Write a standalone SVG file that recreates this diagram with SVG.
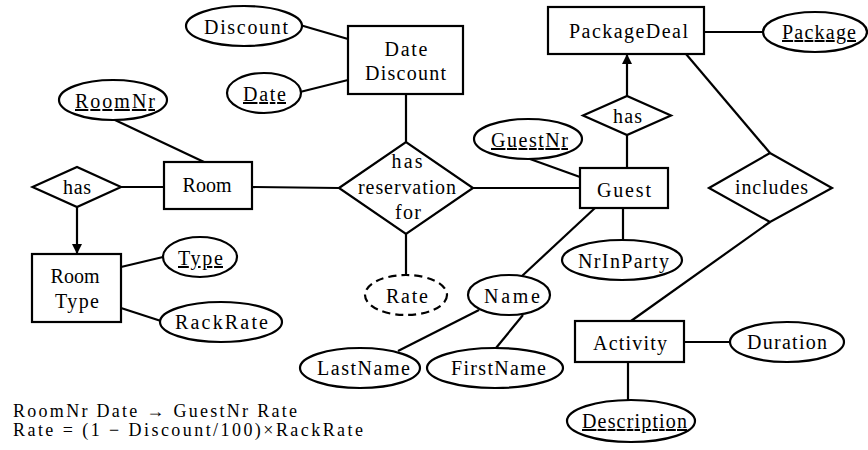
<svg xmlns="http://www.w3.org/2000/svg" width="868" height="450" viewBox="0 0 868 450">
<style>
.s{fill:#fff;stroke:#000;stroke-width:2.2}
.c line{stroke:#000;stroke-width:2.2}
text{font-family:"Liberation Serif","Times New Roman",serif;font-size:20px;fill:#000;text-anchor:middle}
.u{text-decoration:underline}
.f{font-size:18px;text-anchor:start}
.d{stroke-dasharray:8 5}
</style>
<defs>
<marker id="ah" viewBox="0 0 10 10" refX="10" refY="5" markerWidth="10" markerHeight="10" markerUnits="userSpaceOnUse" orient="auto">
<path d="M0,0 L10,5 L0,10 z" fill="#000"/>
</marker>
</defs>
<g class="c" id="connectors">
<line x1="115" y1="120" x2="204" y2="162"/>
<line x1="300" y1="25" x2="348" y2="39"/>
<line x1="300" y1="92" x2="348" y2="80"/>
<line x1="406" y1="94" x2="406" y2="142"/>
<line x1="252" y1="187" x2="339" y2="188"/>
<line x1="473" y1="188" x2="580" y2="188"/>
<line x1="406" y1="234" x2="406" y2="275"/>
<line x1="121" y1="187" x2="164" y2="187"/>
<line x1="77" y1="207" x2="77" y2="254" marker-end="url(#ah)"/>
<line x1="121" y1="267" x2="163" y2="257"/>
<line x1="121" y1="308" x2="161" y2="321"/>
<line x1="530" y1="159" x2="580" y2="177"/>
<line x1="627" y1="168" x2="627" y2="135"/>
<line x1="627" y1="96" x2="627" y2="54" marker-end="url(#ah)"/>
<line x1="704" y1="32" x2="763" y2="32"/>
<line x1="686" y1="54" x2="770" y2="153"/>
<line x1="770" y1="222" x2="631" y2="321"/>
<line x1="623" y1="208" x2="623" y2="240"/>
<line x1="595" y1="208" x2="522" y2="276"/>
<line x1="479" y1="310" x2="398" y2="351"/>
<line x1="523" y1="315" x2="496" y2="348"/>
<line x1="684" y1="342" x2="730" y2="342"/>
<line x1="628" y1="362" x2="628" y2="400"/>
</g>
<g id="discount"><ellipse class="s" cx="244" cy="26" rx="58" ry="20"/><text x="246" y="34" textLength="84">Discount</text></g>
<g id="date"><ellipse class="s" cx="264" cy="93" rx="37" ry="20"/><text class="u" x="264.5" y="101" textLength="43">Date</text></g>
<g id="roomnr"><ellipse class="s" cx="113" cy="100" rx="54" ry="20"/><text class="u" x="115" y="108" textLength="80">RoomNr</text></g>
<g id="datediscount"><rect class="s" x="348" y="26" width="115" height="68"/><text x="406" y="56" textLength="43">Date</text><text x="405.5" y="80" textLength="81">Discount</text></g>
<g id="packagedeal"><rect class="s" x="548" y="7" width="156" height="47"/><text x="628.5" y="38" textLength="119">PackageDeal</text></g>
<g id="package"><ellipse class="s" cx="815" cy="32" rx="52" ry="20"/><text class="u" x="819" y="39" textLength="74">Package</text></g>
<g id="has2"><polygon class="s" points="583,115.5 627,96 671,115.5 627,135"/><text x="627.5" y="123" textLength="29">has</text></g>
<g id="guestnr"><ellipse class="s" cx="528" cy="139" rx="54" ry="20"/><text class="u" x="529.5" y="147" textLength="77">GuestNr</text></g>
<g id="room"><rect class="s" x="164" y="162" width="88" height="47"/><text x="207" y="192" textLength="49">Room</text></g>
<g id="has1"><polygon class="s" points="32.5,187 77,167 121,187 77,207"/><text x="77" y="194" textLength="28">has</text></g>
<g id="hasreservationfor"><polygon class="s" points="339,188 406,142 473,188 406,234"/><text x="407" y="168" textLength="31">has</text><text x="407" y="194" textLength="98">reservation</text><text x="408" y="219" textLength="26">for</text></g>
<g id="guest"><rect class="s" x="580" y="168" width="88" height="40"/><text x="624" y="197" textLength="54">Guest</text></g>
<g id="includes"><polygon class="s" points="709,188 770,153 832,188 770,222"/><text x="771.5" y="194" textLength="73">includes</text></g>
<g id="nrinparty"><ellipse class="s" cx="622" cy="260" rx="60" ry="20"/><text x="623.5" y="268" textLength="91">NrInParty</text></g>
<g id="roomtype"><rect class="s" x="32" y="254" width="89" height="68"/><text x="75" y="283" textLength="49">Room</text><text x="77" y="308" textLength="44">Type</text></g>
<g id="type"><ellipse class="s" cx="200" cy="257" rx="37" ry="20"/><text class="u" x="200.5" y="265" textLength="45">Type</text></g>
<g id="rackrate"><ellipse class="s" cx="221" cy="322" rx="61" ry="20"/><text x="221.5" y="329" textLength="93">RackRate</text></g>
<g id="rate"><ellipse class="s d" cx="406" cy="295" rx="41" ry="20"/><text x="407" y="303" textLength="42">Rate</text></g>
<g id="name"><ellipse class="s" cx="509" cy="295" rx="41" ry="20"/><text x="512" y="303" textLength="56">Name</text></g>
<g id="lastname"><ellipse class="s" cx="360" cy="368" rx="60" ry="20"/><text x="363.5" y="375" textLength="93">LastName</text></g>
<g id="firstname"><ellipse class="s" cx="495" cy="368" rx="68" ry="20"/><text x="498.5" y="375" textLength="95">FirstName</text></g>
<g id="activity"><rect class="s" x="575" y="321" width="109" height="41"/><text x="630" y="350" textLength="74">Activity</text></g>
<g id="duration"><ellipse class="s" cx="787" cy="342" rx="57" ry="20"/><text x="787" y="349" textLength="80">Duration</text></g>
<g id="description"><ellipse class="s" cx="631" cy="421" rx="64" ry="21"/><text class="u" x="634.5" y="428" textLength="105">Description</text></g>
<g id="formulas"><text class="f" x="13" y="417" textLength="284">RoomNr Date → GuestNr Rate</text><text class="f" x="13" y="436" textLength="350">Rate = (1 − Discount/100)×RackRate</text></g>
</svg>
